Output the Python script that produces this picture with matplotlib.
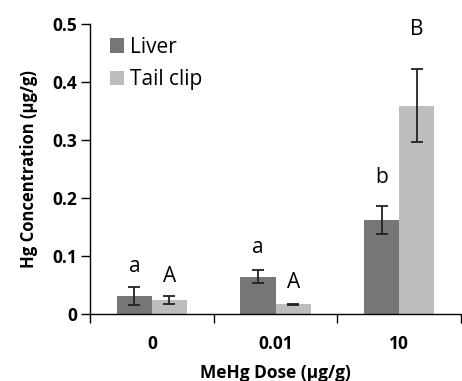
import numpy as np
import matplotlib
matplotlib.use("Agg")
import matplotlib.pyplot as plt

plt.rcParams['font.family'] = ['Open Sans', 'DejaVu Sans']

## data
doses = ['0', '0.01', '10']
liver_mean = [0.031, 0.064, 0.162]
liver_err = [0.015, 0.011, 0.024]
tail_mean = [0.024, 0.017, 0.359]
tail_err = [0.007, 0.001, 0.063]
liver_letters = ['a', 'a', 'b']
tail_letters = ['A', 'A', 'B']
liver_letter_y = [0.072, 0.105, 0.226]   # baseline height of the letters
tail_letter_y = [0.055, 0.045, 0.481]

LIVER_COLOR = '#767676'
TAIL_COLOR = '#bdbdbd'

fig = plt.figure(figsize=(4.62, 3.81), dpi=100)
ax = fig.add_axes([0.195, 0.176, 0.803, 0.761])

x = np.arange(len(doses))
w = 0.284

ax.bar(x - w/2, liver_mean, w, color=LIVER_COLOR, label='Liver')
ax.bar(x + w/2, tail_mean, w, color=TAIL_COLOR, label='Tail clip')
ax.errorbar(x - w/2, liver_mean, yerr=liver_err, fmt='none', ecolor='#222222',
            elinewidth=1.3, capsize=4.5, capthick=1.3)
ax.errorbar(x + w/2, tail_mean, yerr=tail_err, fmt='none', ecolor='#222222',
            elinewidth=1.3, capsize=4.5, capthick=1.3)

# significance letters
for i in range(len(doses)):
    ax.text(x[i] - w/2, liver_letter_y[i], liver_letters[i],
            ha='center', va='baseline', fontsize=15)
    ax.text(x[i] + w/2, tail_letter_y[i], tail_letters[i],
            ha='center', va='baseline', fontsize=15)

ax.set_xlim(-0.5, 2.5)
ax.set_ylim(0, 0.5)
ax.set_yticks([0, 0.1, 0.2, 0.3, 0.4, 0.5])
ax.set_yticklabels(['0', '0.1', '0.2', '0.3', '0.4', '0.5'], fontweight='bold', fontsize=12.5)
ax.set_xticks(x)
ax.set_xticklabels(doses, fontweight='bold', fontsize=12.5)
ax.tick_params(axis='x', which='major', length=0, pad=15)
ax.set_xticks([-0.5, 0.5, 1.5, 2.5], minor=True)
ax.tick_params(axis='x', which='minor', length=6.5, width=1, direction='out')
ax.tick_params(axis='y', length=6.5, width=1, direction='out', pad=3)

for s in ['top', 'right']:
    ax.spines[s].set_visible(False)
for s in ['left', 'bottom']:
    ax.spines[s].set_linewidth(1)

ax.set_xlabel('MeHg Dose (µg/g)', fontweight='bold', fontsize=12.5, labelpad=8)
ax.set_ylabel('Hg Concentration (µg/g)', fontweight='bold', fontsize=12, labelpad=10)

ax.legend(loc='upper left', frameon=False, fontsize=15, handlelength=0.7,
          handleheight=0.7, handletextpad=0.3, labelspacing=0.55,
          bbox_to_anchor=(0.03, 0.985), borderaxespad=0)

fig.savefig('out.png', dpi=100)
